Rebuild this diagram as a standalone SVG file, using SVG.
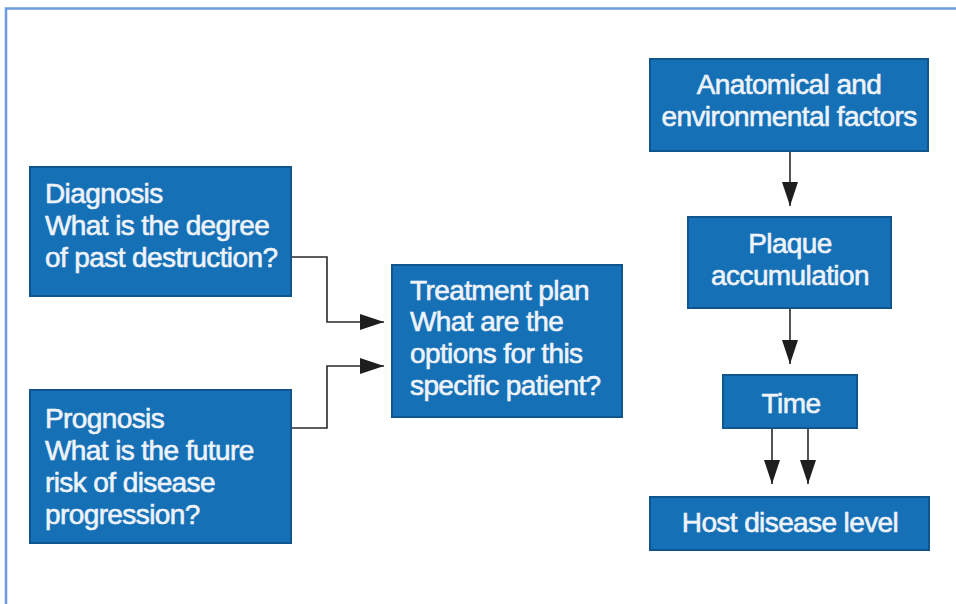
<svg xmlns="http://www.w3.org/2000/svg" width="956" height="604" viewBox="0 0 956 604">
  <style>
    .box { fill: #1570b6; stroke: #0f5590; stroke-width: 2; }
    .t { font-family: "Liberation Sans", Arial, sans-serif; font-size: 28px; fill: #eef3fa; stroke: #eef3fa; stroke-width: 0.6; letter-spacing: -0.6px; }
    .c { text-anchor: middle; }
    .con { fill: none; stroke: #2a2a2a; stroke-width: 1.6; }
    .frame { fill: none; stroke: #6b9be0; stroke-width: 2.5; }
  </style>
  <defs>
    <marker id="arr" viewBox="0 0 24 16" refX="24" refY="8" markerWidth="24" markerHeight="16" markerUnits="userSpaceOnUse" orient="auto">
      <path d="M0,0 L24,8 L0,16 Z" fill="#1e1e1e"/>
    </marker>
  </defs>
  <rect width="956" height="604" fill="#ffffff"/>
  <path class="frame" d="M6,604 L6,8.5 L956,8.5"/>

  <g id="connectors">
    <path class="con" d="M291,257 H327 V322 H384" marker-end="url(#arr)"/>
    <path class="con" d="M291,428 H327 V366 H384" marker-end="url(#arr)"/>
    <path class="con" d="M790,151 V206" marker-end="url(#arr)"/>
    <path class="con" d="M790,308 V364" marker-end="url(#arr)"/>
    <path class="con" d="M772,428 V484" marker-end="url(#arr)"/>
    <path class="con" d="M808,428 V484" marker-end="url(#arr)"/>
  </g>

  <g id="diagnosis">
    <rect class="box" x="30" y="167" width="261" height="129"/>
    <text class="t" x="45" y="203">Diagnosis</text>
    <text class="t" x="45" y="235">What is the degree</text>
    <text class="t" x="45" y="267">of past destruction?</text>
  </g>

  <g id="prognosis">
    <rect class="box" x="30" y="390" width="261" height="153"/>
    <text class="t" x="45" y="428">Prognosis</text>
    <text class="t" x="45" y="460">What is the future</text>
    <text class="t" x="45" y="492">risk of disease</text>
    <text class="t" x="45" y="524">progression?</text>
  </g>

  <g id="treatment">
    <rect class="box" x="392" y="265" width="230" height="152"/>
    <text class="t" x="410" y="300">Treatment plan</text>
    <text class="t" x="410" y="331">What are the</text>
    <text class="t" x="410" y="363">options for this</text>
    <text class="t" x="410" y="395">specific patient?</text>
  </g>

  <g id="anatomical">
    <rect class="box" x="650" y="59" width="278" height="92"/>
    <text class="t c" x="789" y="94">Anatomical and</text>
    <text class="t c" x="789" y="126">environmental factors</text>
  </g>

  <g id="plaque">
    <rect class="box" x="688" y="217" width="203" height="91"/>
    <text class="t c" x="790" y="253">Plaque</text>
    <text class="t c" x="790" y="285">accumulation</text>
  </g>

  <g id="time">
    <rect class="box" x="723" y="375" width="134" height="53"/>
    <text class="t c" x="791" y="413">Time</text>
  </g>

  <g id="host">
    <rect class="box" x="650" y="497" width="279" height="53"/>
    <text class="t c" x="790" y="532">Host disease level</text>
  </g>
</svg>
